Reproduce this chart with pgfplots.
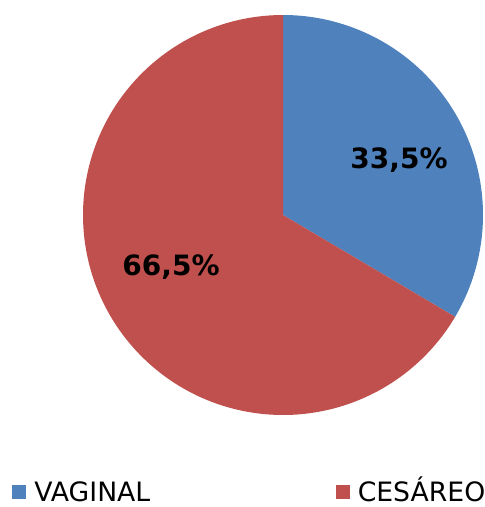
\documentclass[border=0pt]{standalone}
\usepackage{fontspec}
\setmainfont{DejaVu Sans}
\usepackage{pgfplots}
\pgfplotsset{compat=1.18}
\definecolor{cblue}{HTML}{4F81BD}
\definecolor{cred}{HTML}{C0504D}
% values (percent)
\def\vVag{33.5}
\def\vCes{66.5}
\newcommand{\lt}[1]{\raisebox{0pt}[15pt][0pt]{#1}}
\begin{document}
\begin{tikzpicture}
\begin{axis}[
  hide axis, scale only axis,
  x=150pt, y=150pt,
  xmin=-1.415, xmax=1.01, ymin=-1.46, ymax=1.075,
  clip=false,
  legend columns=2,
  legend style={at={(axis cs:-1.355,-1.39)}, anchor=west, draw=none, fill=none,
    font=\fontsize{20}{23}\selectfont, inner sep=0pt,
    /tikz/every odd column/.append style={column sep=4pt},
    /tikz/every even column/.append style={column sep=137pt}},
  legend image code/.code={\fill[#1] (0pt,-4.7pt) rectangle (10.6pt,5.9pt);
    \path (0pt,9.8pt);},
]
\coordinate (bl) at (rel axis cs:0,0);
\coordinate (tr) at (rel axis cs:1,1);
\addplot[fill=cblue, draw=none, domain={90-3.6*\vVag}:90, samples=120, variable=\t]
  ({cos(\t)},{sin(\t)}) -- (axis cs:0,0) -- cycle;
\addlegendentry{\lt{VAGINAL}}
\addplot[fill=cred, draw=none, domain=-270:{90-3.6*\vVag}, samples=200, variable=\t]
  ({cos(\t)},{sin(\t)}) -- (axis cs:0,0) -- cycle;
\addlegendentry{\lt{CESÁREO}}
\node[font=\bfseries\fontsize{21}{25}\selectfont] at (axis cs:0.58,0.275) {33,5\%};
\node[font=\bfseries\fontsize{21}{25}\selectfont] at (axis cs:-0.56,-0.26) {66,5\%};
\end{axis}
\pgfresetboundingbox
\path[use as bounding box] (bl) rectangle (tr);
\end{tikzpicture}
\end{document}
